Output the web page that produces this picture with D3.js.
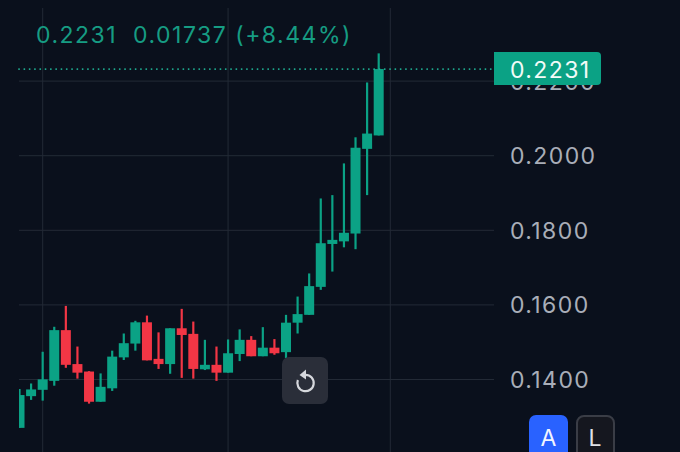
<!DOCTYPE html>
<html>
<head>
<meta charset="utf-8">
<script src="https://cdn.jsdelivr.net/npm/d3@7"></script>
<style>
html, body { margin: 0; padding: 0; background: #0a101c; overflow: hidden; }
text { font-family: Inter, "Noto Sans", sans-serif; }
</style>
</head>
<body>
<svg width="680" height="452"></svg>
<script>
// candle values, oldest first
const opens  = [.1269,.1354,.1371,.1395,.1531,.1440,.1420,.1339,.1375,.1458,.1495,.1552,.1454,.1440,.1536,.1521,.1426,.1438,.1417,.1467,.1505,.1461,.1484,.1472,.1551,.1572,.1647,.1762,.1769,.1790,.2017,.2053];
const closes = [.1357,.1372,.1399,.1531,.1438,.1417,.1339,.1379,.1460,.1496,.1552,.1450,.1440,.1536,.1518,.1427,.1438,.1417,.1469,.1505,.1461,.1484,.1469,.1551,.1574,.1649,.1764,.1773,.1792,.2020,.2058,.2231];
const highs  = [.1373,.1388,.1473,.1540,.1596,.1487,.1421,.1415,.1476,.1522,.1556,.1570,.1525,.1536,.1588,.1554,.1505,.1487,.1506,.1533,.1515,.1539,.1507,.1572,.1621,.1683,.1884,.1893,.1978,.2048,.2195,.2273];
const lows   = [.1269,.1344,.1342,.1382,.1430,.1401,.1334,.1339,.1368,.1451,.1476,.1450,.1427,.1414,.1403,.1401,.1424,.1395,.1417,.1448,.1461,.1461,.1465,.1456,.1522,.1572,.1639,.1688,.1753,.1748,.1893,.2053];
const priceTicks = [0.14, 0.16, 0.18, 0.20, 0.22];
const timeGridCandles = [2, 18, 32];
const lastPrice = 0.2231;
const header = "0.2231  0.01737 (+8.44%)";

const green = "#0ba285", red = "#f23645", grid = "#232a36";
const candles = opens.map((o, i) => ({ i, o, c: closes[i], h: highs[i], l: lows[i] }));

const svg = d3.select("svg");
svg.append("rect").attr("width", 680).attr("height", 452).attr("fill", "#0a101c");
svg.append("clipPath").attr("id", "pane").append("rect")
   .attr("x", 19).attr("y", 0).attr("width", 475).attr("height", 452);

const x = d3.scaleLinear().domain([0, 31]).range([19.5, 378.7]);
const y = d3.scaleLinear().domain([0.14, 0.22]).range([379, 80.6]);

// vertical grid
svg.selectAll(".vgrid").data(timeGridCandles).enter().append("line")
   .attr("x1", d => x(d)).attr("x2", d => x(d))
   .attr("y1", 8).attr("y2", 452)
   .attr("stroke", grid).attr("stroke-width", 1);

// price axis: tick lines double as the horizontal grid
const axis = svg.append("g").attr("transform", "translate(494,0)")
   .call(d3.axisRight(y).tickValues(priceTicks).tickSize(-475).tickPadding(16).tickFormat(d3.format(".4f")));
axis.select(".domain").remove();
axis.selectAll(".tick line").attr("stroke", grid);
axis.selectAll("text")
   .attr("fill", "#a9aeb8").attr("font-size", 23).attr("letter-spacing", 1.4).attr("dy", "0.37em")
   .style("font-family", "Inter, sans-serif");

// wicks then bodies
const colour = d => d.c >= d.o ? green : red;
const pane = svg.append("g").attr("clip-path", "url(#pane)");
pane.selectAll(".wick").data(candles).enter().append("line")
   .attr("x1", d => x(d.i)).attr("x2", d => x(d.i))
   .attr("y1", d => y(d.h)).attr("y2", d => y(d.l))
   .attr("stroke", colour).attr("stroke-width", 2.2);
pane.selectAll(".body").data(candles).enter().append("rect")
   .attr("x", d => x(d.i) - 5)
   .attr("width", 10)
   .attr("y", d => y(Math.max(d.o, d.c)))
   .attr("height", d => Math.abs(y(d.o) - y(d.c)))
   .attr("fill", colour);

// last price line and label
svg.append("line")
   .attr("x1", 19).attr("x2", 494)
   .attr("y1", y(lastPrice)).attr("y2", y(lastPrice))
   .attr("stroke", "#1fb094").attr("stroke-width", 1.8)
   .attr("stroke-linecap", "round").attr("stroke-dasharray", "0.1 5.2");
svg.append("path")
   .attr("d", "M494,52H597a4,4 0 0 1 4,4V81a4,4 0 0 1 -4,4H494Z")
   .attr("fill", green);
svg.append("text").attr("x", 510).attr("y", y(lastPrice) + 8.5)
   .attr("fill", "#f2fbf8").attr("font-size", 23).attr("letter-spacing", 1.4)
   .text(d3.format(".4f")(lastPrice));

// header
svg.append("text").attr("x", 36).attr("y", 42.5)
   .attr("fill", "#169c83").attr("font-size", 23).attr("letter-spacing", 1.5)
   .style("white-space", "pre")
   .text(header);

// reset button
svg.append("rect").attr("x", 282).attr("y", 357).attr("width", 46).attr("height", 47).attr("rx", 7).attr("fill", "#2a2e39");
const icon = svg.append("g").attr("transform", "translate(305.5,383)");
icon.append("path")
   .attr("d", d3.arc()({ innerRadius: 8.2, outerRadius: 8.2, startAngle: 0, endAngle: Math.PI * 1.62 }))
   .attr("fill", "none").attr("stroke", "#d6d8dd").attr("stroke-width", 2.2);
icon.append("path").attr("d", "M-6,-8L0.5,-13.5V-3.5Z").attr("fill", "#d6d8dd");

// scale mode buttons
svg.append("rect").attr("x", 529).attr("y", 415).attr("width", 39).attr("height", 50).attr("rx", 7).attr("fill", "#2962ff");
svg.append("rect").attr("x", 577).attr("y", 416).attr("width", 37).attr("height", 50).attr("rx", 7)
   .attr("fill", "#15171f").attr("stroke", "#3a3d46").attr("stroke-width", 2);
svg.append("text").attr("x", 548.5).attr("y", 446).attr("text-anchor", "middle").attr("fill", "#f2f5ff").attr("font-size", 23).text("A");
svg.append("text").attr("x", 595).attr("y", 446).attr("text-anchor", "middle").attr("fill", "#dfe1e6").attr("font-size", 23).text("L");
</script>
</body>
</html>
